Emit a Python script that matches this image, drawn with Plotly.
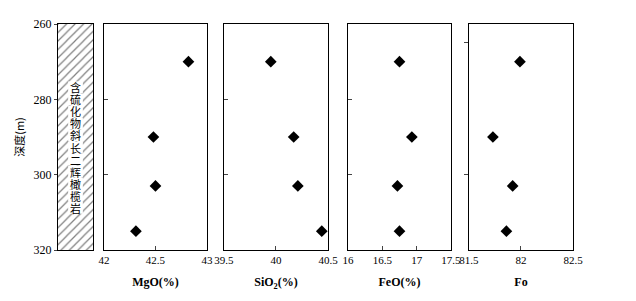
import plotly.graph_objects as go

depth = [270, 290, 303, 315]
mgo = [42.82, 42.48, 42.50, 42.31]
sio2 = [39.95, 40.17, 40.21, 40.44]
feo = [16.75, 16.93, 16.72, 16.75]
fo = [81.99, 81.73, 81.92, 81.86]

rock_label = "含硫化物斜长二辉橄榄岩"
depth_top, depth_bottom = 260, 320
y_ticks = [260, 280, 300, 320]

panels = [
    ("MgO(%)", mgo, [42, 43], [42, 42.5, 43], ["42", "42.5", "43"]),
    ("SiO<sub>2</sub>(%)", sio2, [39.5, 40.5], [39.5, 40, 40.5], ["39.5", "40", "40.5"]),
    ("FeO(%)", feo, [16, 17.5], [16, 16.5, 17, 17.5], ["16", "16.5", "17", "17.5"]),
    ("Fo", fo, [81.5, 82.5], [81.5, 82, 82.5], ["81.5", "82", "82.5"]),
]

domains = [[0.0, 0.068], [0.0893, 0.2893], [0.3223, 0.5243], [0.5631, 0.7631], [0.798, 1.0]]
serif = "Liberation Serif"

fig = go.Figure()

# lithology strip
fig.add_trace(go.Bar(
    x=[0], y=[depth_bottom - depth_top], base=[depth_top], width=[1],
    xaxis="x", yaxis="y",
    marker=dict(color="white", line=dict(color="black", width=0),
                pattern=dict(shape="/", fgcolor="black", bgcolor="white", size=6, solidity=0.2)),
    showlegend=False, hoverinfo="skip",
))

for i, (title, vals, rng, tv, tt) in enumerate(panels):
    n = i + 2
    fig.add_trace(go.Scatter(
        x=vals, y=depth, mode="markers",
        xaxis=f"x{n}", yaxis=f"y{n}",
        marker=dict(symbol="diamond", size=9, color="black"),
        showlegend=False,
    ))

layout = dict(
    width=636, height=301,
    margin=dict(l=50, r=71, t=9, b=59),
    paper_bgcolor="white", plot_bgcolor="white",
    font=dict(family=serif, size=12, color="black"),
    bargap=0,
)

layout["xaxis"] = dict(domain=domains[0], range=[-0.5, 0.5], showticklabels=False, ticks="",
                       showgrid=False, zeroline=False, showline=True, linecolor="black",
                       linewidth=1, mirror=True)
layout["yaxis"] = dict(range=[depth_bottom, depth_top], tickvals=y_ticks, ticks="outside",
                       ticklen=3, showgrid=False, zeroline=False, showline=True,
                       linecolor="black", linewidth=1, mirror=True,
                       tickfont=dict(family=serif, size=12),
                       title=dict(text="深度(m)", font=dict(family="Noto Sans CJK SC", size=11), standoff=6))

for i, (title, vals, rng, tv, tt) in enumerate(panels):
    n = i + 2
    layout[f"xaxis{n}"] = dict(
        domain=domains[i + 1], range=rng, anchor=f"y{n}",
        tickvals=tv, ticktext=tt, ticks="inside", ticklen=4,
        showgrid=False, zeroline=False, showline=True, linecolor="black",
        linewidth=1, mirror=True, tickfont=dict(family=serif, size=11),
        title=dict(text=f"<b>{title}</b>", font=dict(family=serif, size=12), standoff=12),
    )
    if n == 5:
        ytv, ytk = [265, 300], "outside"
    else:
        ytv, ytk = [280, 300], "inside"
    layout[f"yaxis{n}"] = dict(
        range=[depth_bottom, depth_top], anchor=f"x{n}", matches="y",
        tickvals=ytv, ticks=ytk, ticklen=4, showticklabels=False,
        showgrid=False, zeroline=False, showline=True, linecolor="black",
        linewidth=1, mirror=True,
    )

fig.update_layout(**layout)

# vertical rock label, one character per line, each on a white patch
first_y, last_y = 276.8, 308.8
step = (last_y - first_y) / (len(rock_label) - 1)
for k, ch in enumerate(rock_label):
    yc = first_y + k * step
    fig.add_shape(type="rect", xref="x", yref="y",
                  x0=-0.21, x1=0.21, y0=yc - 1.55, y1=yc + 1.55,
                  fillcolor="white", line=dict(width=0), layer="above")
    fig.add_annotation(
        x=0, y=yc, xref="x", yref="y",
        text=ch, showarrow=False,
        font=dict(family="Noto Sans CJK SC", size=11, color="black"),
    )

fig.write_html("out.html")
